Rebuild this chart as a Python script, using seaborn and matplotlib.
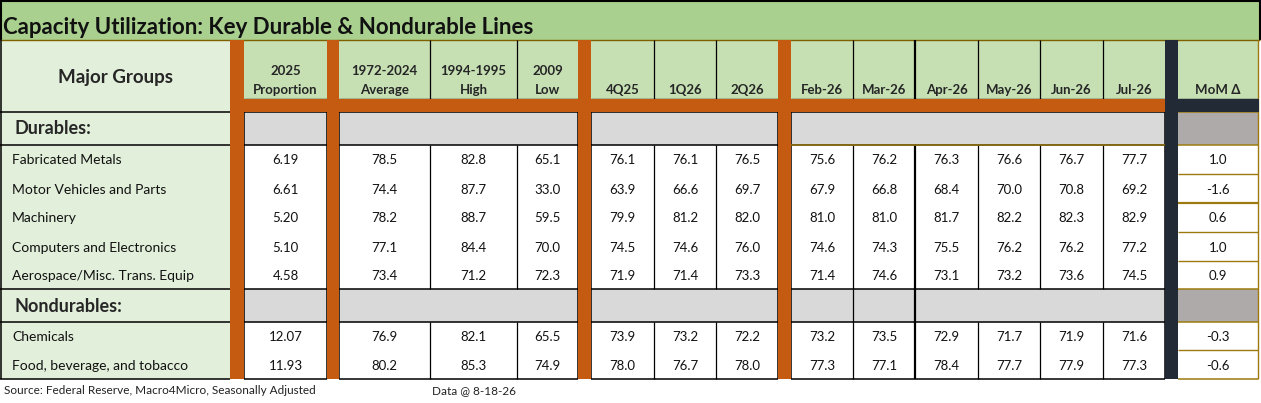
import numpy as np
import pandas as pd
import matplotlib.pyplot as plt
import seaborn as sns
from matplotlib.patches import Rectangle

# Data
title = "Capacity Utilization: Key Durable & Nondurable Lines"
durables = ["Fabricated Metals", "Motor Vehicles and Parts", "Machinery",
            "Computers and Electronics", "Aerospace/Misc. Trans. Equip"]
nondurables = ["Chemicals", "Food, beverage, and tobacco"]
col_labels = ["2025\nProportion", "1972-2024\nAverage", "1994-1995\nHigh", "2009\nLow",
              "4Q25", "1Q26", "2Q26",
              "Feb-26", "Mar-26", "Apr-26", "May-26", "Jun-26", "Jul-26", "MoM Δ"]

proportion = [6.19, 6.61, 5.20, 5.10, 4.58, 12.07, 11.93]
avg_72_24 = [78.5, 74.4, 78.2, 77.1, 73.4, 76.9, 80.2]
high_94_95 = [82.8, 87.7, 88.7, 84.4, 71.2, 82.1, 85.3]
low_2009 = [65.1, 33.0, 59.5, 70.0, 72.3, 65.5, 74.9]
q4_25 = [76.1, 63.9, 79.9, 74.5, 71.9, 73.9, 78.0]
q1_26 = [76.1, 66.6, 81.2, 74.6, 71.4, 73.2, 76.7]
q2_26 = [76.5, 69.7, 82.0, 76.0, 73.3, 72.2, 78.0]
feb_26 = [75.6, 67.9, 81.0, 74.6, 71.4, 73.2, 77.3]
mar_26 = [76.2, 66.8, 81.0, 74.3, 74.6, 73.5, 77.1]
apr_26 = [76.3, 68.4, 81.7, 75.5, 73.1, 72.9, 78.4]
may_26 = [76.6, 70.0, 82.2, 76.2, 73.2, 71.7, 77.7]
jun_26 = [76.7, 70.8, 82.3, 76.2, 73.6, 71.9, 77.9]
jul_26 = [77.7, 69.2, 82.9, 77.2, 74.5, 71.6, 77.3]
mom = [1.0, -1.6, 0.6, 1.0, 0.9, -0.3, -0.6]

source = "Source: Federal Reserve, Macro4Micro, Seasonally Adjusted"
data_note = "Data @ 8-18-26"

df = pd.DataFrame(
    [proportion, avg_72_24, high_94_95, low_2009, q4_25, q1_26, q2_26,
     feb_26, mar_26, apr_26, may_26, jun_26, jul_26, mom],
    index=col_labels, columns=durables + nondurables).T
fmt = ["{:.2f}"] + ["{:.1f}"] * 13

# Colours
TITLE_GREEN = "#A9D08E"
HEAD_GREEN = "#C6E0B4"
LABEL_GREEN = "#E2EFDA"
ORANGE = "#C55A11"
GRAY = "#D9D9D9"
DARK = "#222A35"
MOM_GRAY = "#AEAAAA"
GOLD = "#9C7A10"

sns.set_theme(style="white")
plt.rcParams['font.family'] = ['Lato', 'DejaVu Sans']

fig = plt.figure(figsize=(12.61, 4.03), dpi=100)
ax = fig.add_axes([0, 0, 1, 1])
ax.set_xlim(0, 1261)
ax.set_ylim(403, 0)
ax.axis('off')

# layout
col_groups = [[244, 327], [339, 430, 517, 578], [591, 654, 716, 778],
              [791, 853, 915, 978, 1040, 1103, 1165], [1178, 1258]]
bars = [(230, 244, ORANGE), (327, 339, ORANGE), (578, 591, ORANGE),
        (778, 791, ORANGE), (1165, 1178, DARK)]
y_top, y_head, y_band = 40, 99, 112
y_dur = (112, 145)
dur_rows = [145, 174, 203, 232, 261, 289]
y_non = (289, 322)
non_rows = [322, 350, 379]
y_bot = 379


def rect(x0, y0, x1, y1, fc, ec="none", lw=0, z=1):
    ax.add_patch(Rectangle((x0, y0), x1 - x0, y1 - y0, facecolor=fc,
                           edgecolor=ec, linewidth=lw, zorder=z))


def hline(y, x0, x1, c="black", lw=0.9, z=3):
    ax.plot([x0, x1], [y, y], color=c, lw=lw, zorder=z, solid_capstyle='butt')


def vline(x, y0, y1, c="black", lw=0.9, z=3):
    ax.plot([x, x], [y0, y1], color=c, lw=lw, zorder=z, solid_capstyle='butt')


# title band
rect(0, 0, 1260, y_top, TITLE_GREEN)
ax.text(3, 27, title, fontsize=16, fontweight='bold', va='center', ha='left',
        color="#111111")
hline(0.6, 0, 1260, lw=1.5)
vline(0.6, 0, y_top, lw=1.5)
vline(1259.5, 0, y_top, lw=1.5)
hline(y_top, 0, 1260, c="#7F6000", lw=1.0)

# label column
rect(0, y_top, 230, y_bot, LABEL_GREEN)
ax.text(115, 77, "Major Groups", fontsize=13.5, fontweight='bold', ha='center', va='center')
ax.text(14, 129, "Durables:", fontsize=13, fontweight='bold', ha='left', va='center')
ax.text(14, 306, "Nondurables:", fontsize=13, fontweight='bold', ha='left', va='center')
for y in [y_band, y_dur[1], y_non[0], y_non[1], y_bot]:
    hline(y, 0, 230, lw=1.1)
vline(0.6, y_top, y_bot, lw=1.1)

names = durables + nondurables
row_spans = list(zip(dur_rows[:-1], dur_rows[1:])) + list(zip(non_rows[:-1], non_rows[1:]))
for name, (r0, r1) in zip(names, row_spans):
    ax.text(12, (r0 + r1) / 2 + 1, name, fontsize=10, ha='left', va='center', color="#111111")

# header + data cells per group
ci = 0
for gi, edges in enumerate(col_groups):
    gx0, gx1 = edges[0], edges[-1]
    is_mom = gi == len(col_groups) - 1
    rect(gx0, y_top, gx1, y_head, HEAD_GREEN)
    rect(gx0, y_dur[0], gx1, y_dur[1], MOM_GRAY if is_mom else GRAY)
    rect(gx0, y_non[0], gx1, y_non[1], MOM_GRAY if is_mom else GRAY)
    rect(gx0, dur_rows[0], gx1, dur_rows[-1], "white")
    rect(gx0, non_rows[0], gx1, non_rows[-1], "white")
    edge_c = GOLD if is_mom else "black"
    hline(y_head, gx0, gx1, lw=1.0)
    for y in [y_dur[0], y_dur[1], y_non[0], y_non[1], y_bot]:
        hline(y, gx0, gx1, c=edge_c, lw=1.1)
    if is_mom:
        for y in dur_rows[1:-1] + non_rows[1:-1]:
            hline(y, gx0, gx1, c=GOLD, lw=1.6 if y == 203 else 1.0)
        vline(gx1, y_top, y_bot, c=GOLD, lw=1.0)
    else:
        vline(gx0, y_dur[0], y_bot, lw=1.1)
        vline(gx1, y_dur[0], y_bot, lw=1.1)
    for k in range(len(edges) - 1):
        x0, x1 = edges[k], edges[k + 1]
        xc = (x0 + x1) / 2
        lab = col_labels[ci]
        if "\n" in lab:
            top, bottom = lab.split("\n")
            ax.text(xc, 71, top, fontsize=9.5, fontweight='bold', ha='center', va='center')
            ax.text(xc, 90, bottom, fontsize=9.5, fontweight='bold', ha='center', va='center')
        else:
            ax.text(xc, 90, lab, fontsize=9.5, fontweight='bold', ha='center', va='center')
        for name, (r0, r1) in zip(names, row_spans):
            ax.text(xc, (r0 + r1) / 2 + 1, fmt[ci].format(df.loc[name, lab]),
                    fontsize=9.5, ha='center', va='center', color="#111111")
        if k > 0:
            lw = 1.6 if x0 == 915 else 0.9
            vline(x0, y_top, y_head, lw=lw)
            vline(x0, dur_rows[0], dur_rows[-1], lw=lw)
            vline(x0, non_rows[0], non_rows[-1], lw=lw)
            if x0 in (853, 915):
                vline(x0, y_non[0], y_non[1], lw=lw)
        ci += 1

hline(dur_rows[0], 791, 1165, c=GOLD, lw=1.1, z=4)

# separator bars and band
rect(230, y_head, 1165, y_band, ORANGE, z=5)
rect(1165, y_head, 1259, y_band, DARK, z=5)
for x0, x1, c in bars:
    rect(x0, y_top, x1, y_bot, c, z=5)

# footer
ax.text(4, 391, source, fontsize=8.5, ha='left', va='center', color="#222222")
ax.text(432, 391, data_note, fontsize=8.5, ha='left', va='center', color="#222222")

fig.savefig("out.png", dpi=100)
